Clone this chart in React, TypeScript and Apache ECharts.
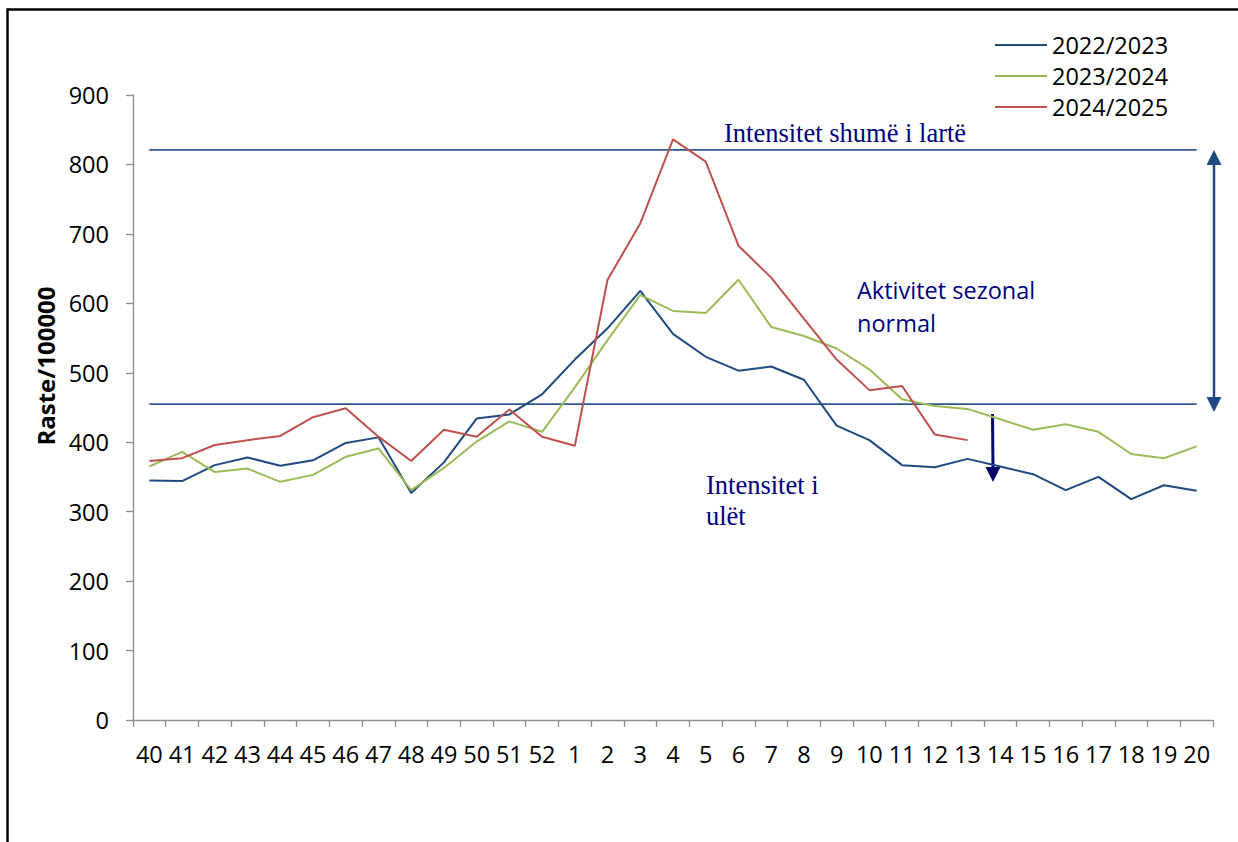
import React, { useEffect, useRef } from "react";
import * as echarts from "echarts";

const categories = [
  "40", "41", "42", "43", "44", "45", "46", "47", "48", "49", "50", "51", "52",
  "1", "2", "3", "4", "5", "6", "7", "8", "9", "10", "11", "12", "13", "14", "15", "16", "17", "18", "19", "20",
];

const season2022 = [
  345, 344, 367, 378, 366, 374, 399, 407, 327, 371, 434, 440, 469,
  519, 564, 618, 556, 523, 503, 509, 490, 424, 403, 367, 364, 376, 365, 354, 331, 350, 318, 338, 330,
];

const season2023 = [
  365, 386, 357, 362, 343, 353, 379, 391, 331, 363, 401, 430, 415,
  479, 547, 612, 589, 586, 634, 566, 553, 535, 505, 462, 452, 448, 433, 418, 426, 415, 383, 377, 394,
];

const season2024 = [
  373, 377, 396, 403, 409, 436, 449, 408, 373, 418, 408, 447, 408,
  395, 634, 715, 836, 804, 683, 637, 578, 519, 475, 481, 411, 403, null, null, null, null, null, null, null,
];

const seriesNames = ["2022/2023", "2023/2024", "2024/2025"];
const thresholdHigh = 821;
const thresholdLow = 455;
const yTicks = { min: 0, max: 900, interval: 100 };

const BLUE = "#1F4A7F";
const GREEN = "#9BBB59";
const RED = "#C0504D";
const REF = "#2D5A8C";
const NAVY = "#000080";
const SANS = '"Open Sans"';
const SERIF = '"Liberation Serif"';

function txt(x: number, y: number, text: string, font: string, fill: string) {
  return {
    type: "text",
    x,
    y,
    silent: true,
    style: {
      text,
      font,
      fill,
      textAlign: "left",
      align: "left",
      textVerticalAlign: "middle",
      verticalAlign: "middle",
    },
  };
}

export default function App() {
  const ref = useRef<HTMLDivElement>(null);

  useEffect(() => {
    if (!ref.current) return;
    const chart = echarts.init(ref.current, undefined, { renderer: "svg" });
    const option = {
      animation: false,
      backgroundColor: "#ffffff",
      grid: { left: 133, right: 25, top: 95, bottom: 122, containLabel: false },
      legend: {
        orient: "vertical",
        left: 995,
        top: 33,
        padding: 0,
        icon: "rect",
        itemWidth: 52,
        itemHeight: 2,
        itemGap: 7,
        data: seriesNames,
        textStyle: { fontFamily: SANS, fontSize: 23.5, color: "#000", lineHeight: 24 },
      },
      xAxis: {
        type: "category",
        data: categories,
        boundaryGap: true,
        axisLine: { lineStyle: { color: "#8E8E8E", width: 1.3 } },
        axisTick: { show: true, interval: 0, length: 7, lineStyle: { color: "#8E8E8E", width: 1.3 } },
        axisLabel: { interval: 0, margin: 22, color: "#000", fontFamily: SANS, fontSize: 23.5 },
        splitLine: { show: false },
      },
      yAxis: {
        type: "value",
        min: yTicks.min,
        max: yTicks.max,
        interval: yTicks.interval,
        axisLine: { show: true, lineStyle: { color: "#8E8E8E", width: 1.3 } },
        axisTick: { show: true, length: 7, lineStyle: { color: "#8E8E8E", width: 1.3 } },
        axisLabel: { margin: 24, color: "#000", fontFamily: SANS, fontSize: 23.5 },
        splitLine: { show: false },
      },
      series: [
        {
          name: "high",
          type: "line",
          data: categories.map(() => thresholdHigh),
          symbol: "none",
          lineStyle: { color: REF, width: 1.8 },
          itemStyle: { color: REF },
          silent: true,
        },
        {
          name: "low",
          type: "line",
          data: categories.map(() => thresholdLow),
          symbol: "none",
          lineStyle: { color: REF, width: 1.8 },
          itemStyle: { color: REF },
          silent: true,
        },
        {
          name: seriesNames[0],
          type: "line",
          data: season2022,
          symbol: "none",
          lineStyle: { color: BLUE, width: 2 },
          itemStyle: { color: BLUE },
        },
        {
          name: seriesNames[1],
          type: "line",
          data: season2023,
          symbol: "none",
          lineStyle: { color: GREEN, width: 2 },
          itemStyle: { color: GREEN },
        },
        {
          name: seriesNames[2],
          type: "line",
          data: season2024,
          symbol: "none",
          connectNulls: false,
          lineStyle: { color: RED, width: 2 },
          itemStyle: { color: RED },
        },
      ],
      graphic: [
        // frame
        { type: "line", silent: true, shape: { x1: 7, y1: 9.5, x2: 1240, y2: 9.5 }, style: { stroke: "#000", lineWidth: 2.5 } },
        { type: "line", silent: true, shape: { x1: 7.5, y1: 8.5, x2: 7.5, y2: 845 }, style: { stroke: "#000", lineWidth: 2.5 } },
        // y axis title
        {
          type: "text",
          x: 45,
          y: 366,
          rotation: Math.PI / 2,
          silent: true,
          style: {
            text: "Raste/100000",
            font: `bold 24px ${SANS}`,
            fill: "#000",
            textAlign: "center",
            align: "center",
            textVerticalAlign: "middle",
            verticalAlign: "middle",
          },
        },
        txt(724, 133, "Intensitet shumë i lartë", `26.5px ${SERIF}`, NAVY),
        txt(857, 290, "Aktivitet sezonal", `23.5px ${SANS}`, NAVY),
        txt(857, 323, "normal", `23.5px ${SANS}`, NAVY),
        txt(706, 485, "Intensitet i", `26.5px ${SERIF}`, NAVY),
        txt(706, 516, "ulët", `26.5px ${SERIF}`, NAVY),
        // double arrow
        { type: "line", silent: true, shape: { x1: 1214, y1: 160, x2: 1214, y2: 402 }, style: { stroke: BLUE, lineWidth: 2.5 } },
        { type: "polygon", silent: true, shape: { points: [[1214, 150], [1206.5, 165], [1221.5, 165]] }, style: { fill: BLUE } },
        { type: "polygon", silent: true, shape: { points: [[1214, 412], [1206.5, 397], [1221.5, 397]] }, style: { fill: BLUE } },
        // small arrow
        { type: "line", silent: true, shape: { x1: 992.5, y1: 414, x2: 993, y2: 470 }, style: { stroke: "#0A0A6B", lineWidth: 3 } },
        { type: "polygon", silent: true, shape: { points: [[993, 482], [985.5, 467], [1000.5, 467]] }, style: { fill: "#0A0A6B" } },
      ],
    };
    chart.setOption(option as any);
    return () => chart.dispose();
  }, []);

  return (
    <div
      ref={ref}
      style={{ position: "fixed", left: 0, top: 0, width: 1238, height: 842, background: "#fff" }}
    />
  );
}
